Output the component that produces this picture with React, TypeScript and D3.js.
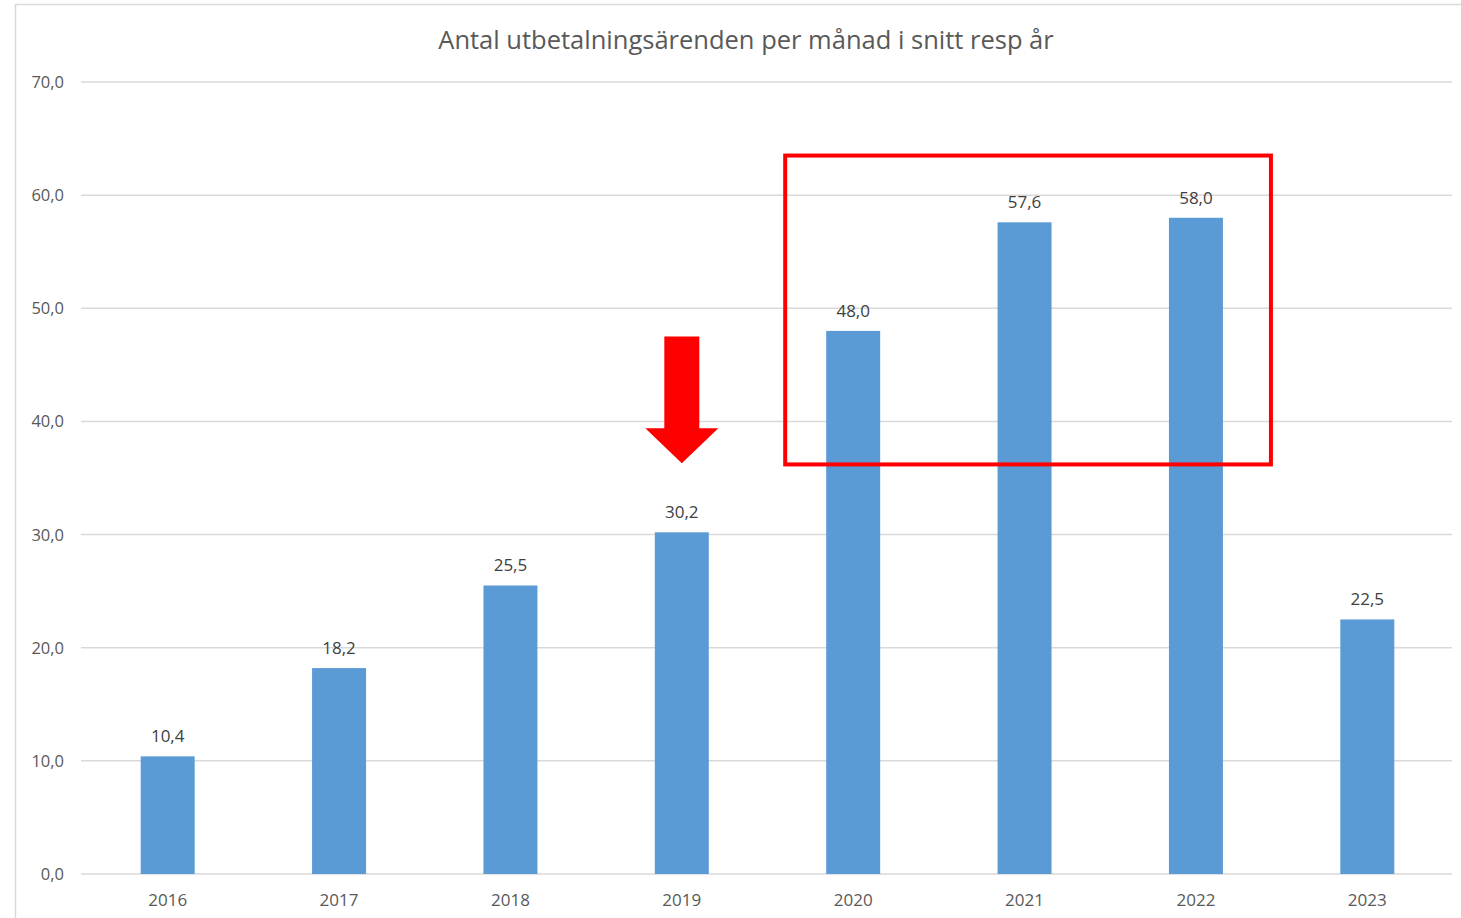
import React from 'react'
import { scaleBand, scaleLinear, formatLocale } from 'd3'

const years = ['2016', '2017', '2018', '2019', '2020', '2021', '2022', '2023']
const avgPerMonth = [10.4, 18.2, 25.5, 30.2, 48.0, 57.6, 58.0, 22.5]
const yTicks = [0, 10, 20, 30, 40, 50, 60, 70]
const title = 'Antal utbetalningsärenden per månad i snitt resp år'

// annotations in data units
const arrowYear = '2019'
const arrowTop = 47.5
const arrowHeadBase = 39.4
const arrowTip = 36.3
const boxYears = ['2020', '2022']
const boxTop = 63.5
const boxBottom = 36.2

const W = 1461
const H = 918
const fmt = formatLocale({ decimal: ',', thousands: ' ', grouping: [3], currency: ['', ' kr'] }).format('.1f')

export default function App() {
  const x = scaleBand()
    .domain(years)
    .range([82, 1453])
    .paddingInner(0.685)
    .paddingOuter(0.3425)

  const y = scaleLinear().domain([0, 70]).range([874, 82])

  const font = '"Open Sans", sans-serif'

  // arrow geometry
  const ax = x(arrowYear) + x.bandwidth() / 2
  const shaftHalf = 17.5
  const headHalf = 36.5
  const arrowPts = [
    [ax - shaftHalf, y(arrowTop)],
    [ax + shaftHalf, y(arrowTop)],
    [ax + shaftHalf, y(arrowHeadBase)],
    [ax + headHalf, y(arrowHeadBase)],
    [ax, y(arrowTip)],
    [ax - headHalf, y(arrowHeadBase)],
    [ax - shaftHalf, y(arrowHeadBase)],
  ]

  const boxX0 = x(boxYears[0]) - 41
  const boxX1 = x(boxYears[1]) + x.bandwidth() + 48

  return (
    <svg width={W} height={H} style={{ position: 'absolute', left: 0, top: 0, background: '#fff' }}>
      <rect x={15.5} y={4.5} width={1480} height={940} fill="none" stroke="#d9d9d9" strokeWidth={1.5} />
      <text x={746} y={49} textAnchor="middle" fontFamily={font} fontSize={25.5} fill="#595959">
        {title}
      </text>

      {yTicks.map(t => (
        <g key={t}>
          <line x1={81} x2={1452} y1={y(t)} y2={y(t)} stroke="#d9d9d9" strokeWidth={1.5} />
          <text x={64} y={y(t)} dy="0.36em" textAnchor="end" fontFamily={font} fontSize={16.5} fill="#595959">
            {fmt(t)}
          </text>
        </g>
      ))}

      {years.map((yr, i) => (
        <g key={yr}>
          <rect
            x={x(yr)}
            y={y(avgPerMonth[i])}
            width={x.bandwidth()}
            height={y(0) - y(avgPerMonth[i])}
            fill="#5b9bd5"
          />
          <text
            x={x(yr) + x.bandwidth() / 2}
            y={y(avgPerMonth[i]) - 14}
            textAnchor="middle"
            fontFamily={font}
            fontSize={17}
            fill="#404040"
          >
            {fmt(avgPerMonth[i])}
          </text>
          <text
            x={x(yr) + x.bandwidth() / 2}
            y={906}
            textAnchor="middle"
            fontFamily={font}
            fontSize={17}
            fill="#595959"
          >
            {yr}
          </text>
        </g>
      ))}

      <polygon points={arrowPts.map(p => p.join(',')).join(' ')} fill="#ff0000" />
      <rect
        x={boxX0}
        y={y(boxTop)}
        width={boxX1 - boxX0}
        height={y(boxBottom) - y(boxTop)}
        fill="none"
        stroke="#ff0000"
        strokeWidth={4}
      />
    </svg>
  )
}
